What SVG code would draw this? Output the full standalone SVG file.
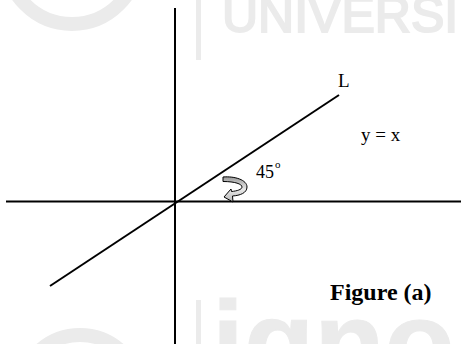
<svg xmlns="http://www.w3.org/2000/svg" width="461" height="344" viewBox="0 0 461 344">
<style>
.ax{stroke:#000;stroke-width:2;fill:none}
.t{font-family:"Liberation Serif","Times New Roman",serif;fill:#000}
.wm{fill:#ebebeb}
.wmt{fill:#ebebeb;stroke:#ebebeb;font-family:"Liberation Sans",Arial,sans-serif}
.wms{stroke:#ebebeb;fill:none}
</style>
<defs>
<linearGradient id="g" x1="0" y1="0" x2="0" y2="1">
<stop offset="0" stop-color="#9a9a9a"/>
<stop offset="0.5" stop-color="#e8e8e8"/>
<stop offset="1" stop-color="#b5b5b5"/>
</linearGradient>
</defs>
<rect width="461" height="344" fill="#fff"/>
<g id="watermark">
<circle class="wms" cx="72" cy="-42" r="66" stroke-width="14"/>
<rect class="wm" x="196" y="0" width="5" height="60"/>
<text x="222" y="32" class="wmt" font-size="50" stroke-width="2">UNIVERSI</text>
<rect class="wm" x="196" y="300" width="5" height="44"/>
<circle class="wms" cx="80" cy="395" r="60" stroke-width="14"/>
<text x="212" y="382" class="wmt" font-size="115" font-weight="bold" stroke-width="1">ignou</text>
</g>
<g id="axes">
<line class="ax" x1="175" y1="8" x2="175" y2="344"/>
<line class="ax" x1="6" y1="201.5" x2="461" y2="201.5"/>
</g>
<g id="line-L">
<line class="ax" x1="339" y1="95" x2="50" y2="286"/>
</g>
<g id="angle-arrow">
<path d="M223,177 C235,176 247,180 247,187 C247,193 240,195.5 232.5,196 L233,202 L224,197 L231,189 L231.5,191.5 C237,191 242,189.5 242,187 C242,184 235,181.5 223,181.5 Z" fill="url(#g)" stroke="#000" stroke-width="1"/>
</g>
<g id="labels">
<text class="t" x="338" y="87" font-size="19">L</text>
<text class="t" x="361" y="141" font-size="19">y = x</text>
<text class="t" x="256" y="178" font-size="18">45</text>
<text class="t" x="275" y="168" font-size="11">o</text>
<text class="t" x="330" y="300" font-size="24" font-weight="bold">Figure (a)</text>
</g>
</svg>
